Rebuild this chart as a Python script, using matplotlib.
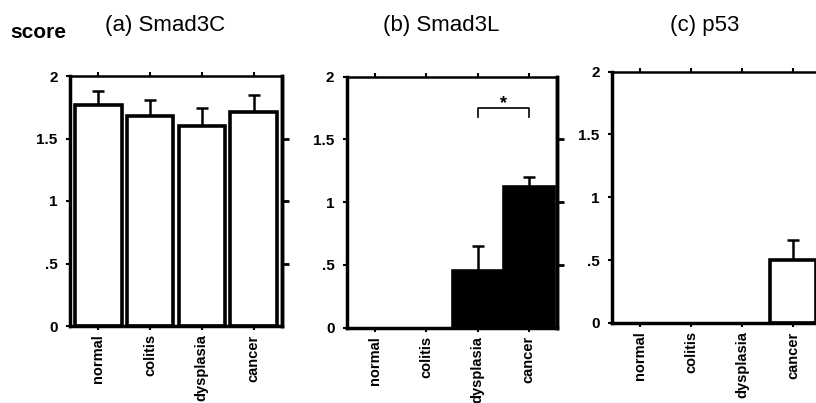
import numpy as np
import matplotlib
matplotlib.use("Agg")
import matplotlib.pyplot as plt

plt.rcParams['font.family'] = ['Liberation Sans', 'DejaVu Sans']

# data
categories = ['normal', 'colitis', 'dysplasia', 'cancer']
smad3c_mean = [1.77, 1.68, 1.60, 1.71]
smad3c_err = [0.11, 0.13, 0.14, 0.14]
smad3l_mean = [0.0, 0.0, 0.45, 1.12]
smad3l_err = [0.0, 0.0, 0.20, 0.08]
p53_mean = [0.0, 0.0, 0.0, 0.50]
p53_err = [0.0, 0.0, 0.0, 0.16]
titles = ['(a) Smad3C', '(b) Smad3L', '(c) p53']
yticks = [0, 0.5, 1, 1.5, 2]
yticklabels = ['0', '.5', '1', '1.5', '2']

fig = plt.figure(figsize=(8.16, 4.03), dpi=100)

# axes boxes in figure fraction [left, bottom, width, height]
boxes = [
    [70 / 816, 77 / 403, 212 / 816, 250 / 403],
    [347 / 816, 75.5 / 403, 210 / 816, 251 / 403],
    [612 / 816, 80 / 403, 209 / 816, 251.5 / 403],
]
panels = [
    (smad3c_mean, smad3c_err, 'white', 0.9),
    (smad3l_mean, smad3l_err, 'black', 0.97),
    (p53_mean, p53_err, 'white', 0.9),
]
title_x = [165, 441, 705]

x = np.arange(len(categories))
axes = []
for i, (box, (mean, err, fc, w)) in enumerate(zip(boxes, panels)):
    ax = fig.add_axes(box)
    axes.append(ax)
    mean = np.array(mean)
    err = np.array(err)
    show = mean > 0
    ax.bar(x[show], mean[show], width=w, color=fc, edgecolor='black',
           linewidth=2.6, zorder=2)
    has_err = err > 0
    ax.errorbar(x[has_err], mean[has_err],
                yerr=[np.zeros(has_err.sum()), err[has_err]],
                fmt='none', ecolor='black', elinewidth=1.8, capsize=4,
                capthick=1.8, zorder=1)
    ax.set_xlim(-0.55, 3.55)
    ax.set_ylim(0, 2)
    ax.set_yticks(yticks)
    ax.set_yticklabels(yticklabels, fontsize=11, fontweight='bold')
    ax.set_xticks(x)
    ax.set_xticklabels(categories, rotation=90, fontsize=10.5,
                       fontweight='bold')
    ax.tick_params(axis='x', direction='out', length=3, width=1.5,
                   top=True, pad=3)
    ax.tick_params(axis='y', direction='out', length=3, width=1.5, pad=6)
    for side in ['left', 'bottom', 'right']:
        ax.spines[side].set_linewidth(2.5)
    ax.spines['top'].set_linewidth(1.8)
    if i < 2:
        # right side ticks without labels
        sec = ax.secondary_yaxis('right')
        sec.set_yticks([0.5, 1, 1.5])
        sec.set_yticklabels([])
        sec.tick_params(direction='out', length=5, width=2)
        sec.spines['right'].set_linewidth(2.5)
    else:
        ax.spines['right'].set_visible(False)
    fig.text(title_x[i] / 816, 1 - 25 / 403, titles[i], ha='center',
             va='center', fontsize=16)

# significance bracket in panel (b)
ax = axes[1]
ax.plot([2, 2, 3, 3], [1.68, 1.75, 1.75, 1.68], color='black', lw=1.2)
ax.text(2.5, 1.72, '*', ha='center', va='bottom', fontsize=13,
        fontweight='bold')

fig.text(38 / 816, 1 - 32 / 403, 'score', ha='center', va='center',
         fontsize=15, fontweight='bold')

fig.savefig('out.png', dpi=100)
